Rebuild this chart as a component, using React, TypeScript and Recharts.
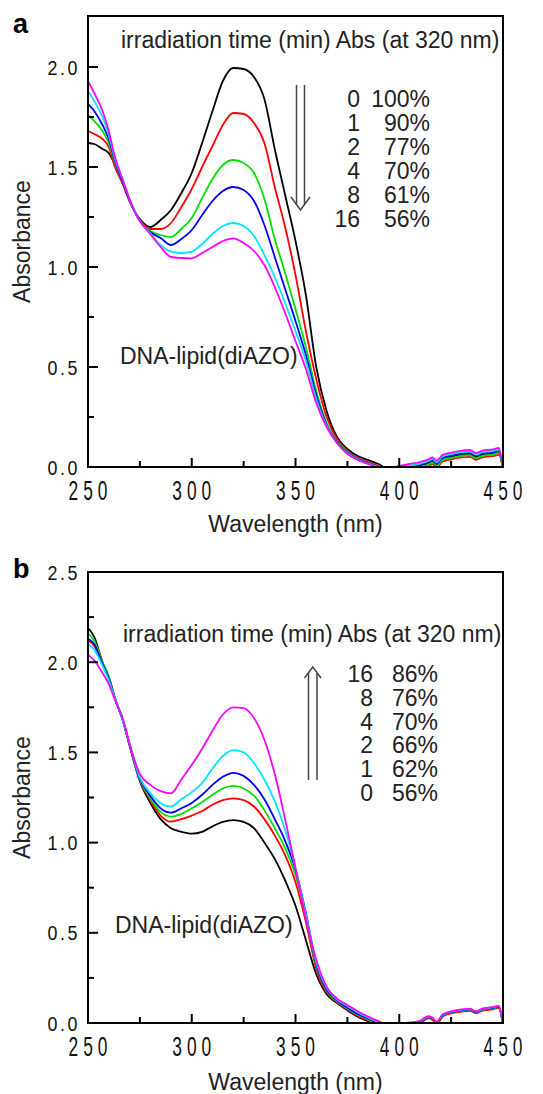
import { LineChart, Line, XAxis, YAxis, ReferenceArea } from "recharts";

// wavelength grid (nm)
const wavelengths = [
  250, 253, 257, 260, 263, 267, 270, 275, 280, 285, 290, 295, 300, 305, 310, 315, 320, 325, 330, 335,
  340, 345, 350, 355, 360, 365, 370, 375, 380, 385, 390, 395, 400, 405, 410, 414, 416, 418, 421, 425,
  430, 434, 437, 440, 445, 448, 450,
];

// panel a: trans -> cis (absorbance at each wavelength)
const a_0min = [
  1.62, 1.615, 1.59, 1.57, 1.51, 1.41, 1.33, 1.24, 1.2, 1.235, 1.285, 1.37, 1.47, 1.62, 1.78, 1.93, 1.995, 1.99, 1.95, 1.84,
  1.59, 1.36, 1.13, 0.86, 0.5, 0.28, 0.15, 0.09, 0.055, 0.035, 0.015, -0.01, -0.01, -0.005, 0.005, 0.018, 0.028, 0.012, 0.042, 0.052,
  0.062, 0.065, 0.05, 0.062, 0.068, 0.075, -0.01,
];
const a_1min = [
  1.68, 1.665, 1.64, 1.6, 1.5, 1.41, 1.33, 1.235, 1.19, 1.19, 1.22, 1.3, 1.39, 1.5, 1.605, 1.71, 1.77, 1.765, 1.72, 1.62,
  1.4, 1.2, 0.96, 0.68, 0.44, 0.25, 0.14, 0.08, 0.045, 0.025, 0.005, -0.01, -0.01, -0.01, -0.005, 0.005, 0.014, -0.002, 0.028, 0.038,
  0.048, 0.051, 0.036, 0.048, 0.054, 0.061, -0.01,
];
const a_2min = [
  1.76, 1.73, 1.68, 1.62, 1.52, 1.42, 1.335, 1.23, 1.18, 1.16, 1.15, 1.19, 1.245, 1.345, 1.44, 1.51, 1.535, 1.52, 1.47, 1.34,
  1.14, 0.97, 0.79, 0.6, 0.38, 0.22, 0.13, 0.075, 0.04, 0.02, 0.0, -0.01, -0.01, -0.008, 0.0, 0.012, 0.022, 0.006, 0.036, 0.046,
  0.056, 0.059, 0.044, 0.056, 0.062, 0.069, -0.01,
];
const a_4min = [
  1.815, 1.78, 1.71, 1.64, 1.53, 1.42, 1.335, 1.23, 1.175, 1.145, 1.11, 1.14, 1.185, 1.26, 1.33, 1.38, 1.4, 1.385, 1.33, 1.21,
  1.05, 0.89, 0.73, 0.56, 0.36, 0.21, 0.125, 0.07, 0.04, 0.02, 0.0, -0.01, -0.005, 0.001, 0.011, 0.024, 0.034, 0.018, 0.048, 0.058,
  0.068, 0.071, 0.056, 0.068, 0.074, 0.081, -0.01,
];
const a_8min = [
  1.88, 1.83, 1.75, 1.66, 1.54, 1.43, 1.34, 1.23, 1.17, 1.11, 1.077, 1.07, 1.077, 1.115, 1.165, 1.205, 1.22, 1.205, 1.155, 1.06,
  0.95, 0.82, 0.68, 0.53, 0.34, 0.205, 0.12, 0.068, 0.037, 0.017, 0.0, -0.01, 0.0, 0.007, 0.017, 0.03, 0.04, 0.024, 0.054, 0.064,
  0.074, 0.077, 0.062, 0.074, 0.08, 0.087, -0.01,
];
const a_16min = [
  1.93, 1.87, 1.78, 1.68, 1.55, 1.43, 1.34, 1.23, 1.165, 1.1, 1.05, 1.045, 1.043, 1.07, 1.1, 1.13, 1.143, 1.12, 1.08, 1.01,
  0.9, 0.77, 0.63, 0.49, 0.32, 0.2, 0.12, 0.065, 0.035, 0.015, 0.0, -0.005, 0.005, 0.015, 0.025, 0.038, 0.048, 0.032, 0.062, 0.072,
  0.082, 0.085, 0.07, 0.082, 0.088, 0.095, -0.01,
];

// panel b: cis -> trans recovery
const b_0min = [
  2.19, 2.14, 2.0, 1.92, 1.8, 1.67, 1.54, 1.34, 1.22, 1.13, 1.08, 1.06, 1.05, 1.06, 1.09, 1.115, 1.125, 1.115, 1.08, 1.0,
  0.91, 0.79, 0.65, 0.46, 0.27, 0.16, 0.11, 0.07, 0.035, 0.01, -0.01, -0.01, -0.01, -0.005, 0.004, 0.03, 0.022, 0.0, 0.04, 0.057,
  0.067, 0.072, 0.057, 0.072, 0.08, 0.087, -0.01,
];
const b_1min = [
  2.12, 2.09, 1.99, 1.91, 1.8, 1.67, 1.54, 1.345, 1.235, 1.15, 1.116, 1.13, 1.15, 1.175, 1.21, 1.235, 1.245, 1.235, 1.2, 1.13,
  1.04, 0.93, 0.78, 0.56, 0.3, 0.17, 0.115, 0.075, 0.04, 0.015, -0.01, -0.01, -0.01, -0.008, 0.0, 0.026, 0.018, -0.004, 0.036, 0.053,
  0.063, 0.068, 0.053, 0.068, 0.076, 0.083, -0.01,
];
const b_2min = [
  2.16, 2.12, 2.0, 1.92, 1.8, 1.67, 1.545, 1.35, 1.245, 1.17, 1.144, 1.16, 1.19, 1.225, 1.265, 1.3, 1.314, 1.3, 1.26, 1.18,
  1.08, 0.97, 0.82, 0.59, 0.32, 0.18, 0.12, 0.08, 0.045, 0.02, -0.01, -0.01, -0.01, -0.004, 0.005, 0.031, 0.023, 0.001, 0.041, 0.058,
  0.068, 0.073, 0.058, 0.073, 0.081, 0.088, -0.01,
];
const b_4min = [
  2.13, 2.1, 1.99, 1.91, 1.8, 1.67, 1.545, 1.355, 1.26, 1.19, 1.166, 1.19, 1.22, 1.265, 1.32, 1.365, 1.387, 1.37, 1.32, 1.24,
  1.13, 1.01, 0.85, 0.61, 0.33, 0.185, 0.125, 0.085, 0.05, 0.025, 0.0, -0.01, -0.008, -0.002, 0.007, 0.033, 0.025, 0.003, 0.043, 0.06,
  0.07, 0.075, 0.06, 0.075, 0.083, 0.09, -0.01,
];
const b_8min = [
  2.1, 2.07, 1.98, 1.9, 1.8, 1.67, 1.55, 1.36, 1.275, 1.22, 1.2, 1.24, 1.28, 1.33, 1.41, 1.48, 1.513, 1.5, 1.44, 1.35,
  1.23, 1.07, 0.86, 0.6, 0.34, 0.195, 0.13, 0.095, 0.06, 0.03, 0.005, -0.01, -0.006, 0.0, 0.01, 0.036, 0.028, 0.006, 0.046, 0.063,
  0.073, 0.078, 0.063, 0.078, 0.086, 0.093, -0.01,
];
const b_16min = [
  2.04, 2.01, 1.94, 1.88, 1.79, 1.68, 1.55, 1.38, 1.32, 1.285, 1.273, 1.35, 1.43, 1.52, 1.62, 1.71, 1.75, 1.745, 1.69, 1.57,
  1.38, 1.13, 0.86, 0.58, 0.35, 0.2, 0.135, 0.1, 0.065, 0.035, 0.01, -0.01, -0.005, 0.003, 0.012, 0.038, 0.03, 0.008, 0.048, 0.065,
  0.075, 0.08, 0.065, 0.08, 0.088, 0.095, -0.01,
];

const seriesKeys = ["t0", "t1", "t2", "t4", "t8", "t16"];
const seriesColors = ["#000000", "#ff0000", "#00e000", "#0000ff", "#00e5ff", "#ff00ff"];

const legendA = [
  ["0", "100%"],
  ["1", "90%"],
  ["2", "77%"],
  ["4", "70%"],
  ["8", "61%"],
  ["16", "56%"],
];
const legendB = [
  ["16", "86%"],
  ["8", "76%"],
  ["4", "70%"],
  ["2", "66%"],
  ["1", "62%"],
  ["0", "56%"],
];

const xTicks = [250, 275, 300, 325, 350, 375, 400, 425, 450];
const yTicksA = [0, 0.25, 0.5, 0.75, 1, 1.25, 1.5, 1.75, 2];
const yTicksB = [0, 0.25, 0.5, 0.75, 1, 1.25, 1.5, 1.75, 2, 2.25, 2.5];

const rowsA = wavelengths.map((w, i) => ({
  w,
  t0: a_0min[i],
  t1: a_1min[i],
  t2: a_2min[i],
  t4: a_4min[i],
  t8: a_8min[i],
  t16: a_16min[i],
}));
const rowsB = wavelengths.map((w, i) => ({
  w,
  t0: b_0min[i],
  t1: b_1min[i],
  t2: b_2min[i],
  t4: b_4min[i],
  t8: b_8min[i],
  t16: b_16min[i],
}));

const FONT = "'Liberation Sans', Arial, Helvetica, sans-serif";

const XTick = (props: any) => {
  const { x, y, payload } = props;
  const v = payload.value;
  const major = v % 50 === 0;
  return (
    <g>
      <line x1={x} x2={x} y1={y} y2={y - (major ? 9 : 6)} stroke="#000" strokeWidth={2} />
      {major && (
        <text
          transform={`translate(${x + 2.5},${y + 33}) scale(0.62,1)`}
          textAnchor="middle"
          fontSize={28}
          letterSpacing={8}
          fontFamily={FONT}
          fill="#111"
        >
          {v}
        </text>
      )}
    </g>
  );
};

const YTick = (props: any) => {
  const { x, y, payload } = props;
  const v = payload.value;
  const major = Math.abs(v * 2 - Math.round(v * 2)) < 1e-6;
  return (
    <g>
      <line x1={x} x2={x + (major ? 10 : 6)} y1={y} y2={y} stroke="#000" strokeWidth={2} />
      {major && (
        <text
          transform={`translate(${x - 8},${y + 7.5}) scale(0.85,1)`}
          textAnchor="end"
          fontSize={21}
          letterSpacing={3}
          fontFamily={FONT}
          fill="#111"
        >
          {v.toFixed(1)}
        </text>
      )}
    </g>
  );
};

function Panel({ rows, yMax, yTicks, top, height, marginTop, marginBottom }: any) {
  return (
    <div style={{ position: "absolute", left: 0, top, width: 543, height }}>
      <LineChart
        width={543}
        height={height}
        data={rows}
        margin={{ top: marginTop, right: 40, bottom: marginBottom, left: 28 }}
      >
        <XAxis
          dataKey="w"
          type="number"
          domain={[250, 450]}
          ticks={xTicks}
          interval={0}
          allowDataOverflow
          height={40}
          tickSize={0}
          tickMargin={0}
          tickLine={false}
          axisLine={{ stroke: "#000", strokeWidth: 2 }}
          tick={<XTick />}
        />
        <YAxis
          type="number"
          domain={[0, yMax]}
          ticks={yTicks}
          interval={0}
          allowDataOverflow
          width={60}
          tickSize={0}
          tickMargin={0}
          tickLine={false}
          axisLine={{ stroke: "#000", strokeWidth: 2 }}
          tick={<YTick />}
        />
        {seriesKeys.map((k, i) => (
          <Line
            key={k}
            dataKey={k}
            type="monotone"
            stroke={seriesColors[i]}
            strokeWidth={1.8}
            dot={false}
            isAnimationActive={false}
          />
        ))}
        <ReferenceArea x1={250} x2={450} y1={0} y2={yMax} fill="none" stroke="#000" strokeWidth={2} />
      </LineChart>
    </div>
  );
}

function Annotations() {
  const t = { fontFamily: FONT, fontSize: 23, fill: "#222" } as any;
  return (
    <svg
      width={543}
      height={1094}
      style={{ position: "absolute", left: 0, top: 0, pointerEvents: "none" }}
    >
      {/* panel a */}
      <text x={13} y={33} fontFamily={FONT} fontSize={27} fontWeight="bold" fill="#000">a</text>
      <text x={121} y={48} {...t}>irradiation time (min) Abs (at 320 nm)</text>
      {legendA.map((r, i) => (
        <g key={"la" + i}>
          <text x={360} y={107 + 24 * i} textAnchor="end" {...t}>{r[0]}</text>
          <text x={430} y={107 + 24 * i} textAnchor="end" {...t}>{r[1]}</text>
        </g>
      ))}
      <line x1={296.5} x2={296.5} y1={85} y2={205} stroke="#444" strokeWidth={1.5} />
      <line x1={304.5} x2={304.5} y1={85} y2={205} stroke="#444" strokeWidth={1.5} />
      <polyline points="291,197 300.5,210 310,197" fill="none" stroke="#444" strokeWidth={1.5} />
      <text x={120} y={364} {...t}>DNA-lipid(diAZO)</text>
      <text
        transform="translate(30,241.5) rotate(-90)"
        textAnchor="middle"
        fontFamily={FONT}
        fontSize={23}
        fill="#222"
      >
        Absorbance
      </text>
      <text x={295.5} y={532} textAnchor="middle" fontFamily={FONT} fontSize={23} fill="#222">
        Wavelength (nm)
      </text>

      {/* panel b */}
      <text x={13} y={578} fontFamily={FONT} fontSize={27} fontWeight="bold" fill="#000">b</text>
      <text x={123} y={642} {...t}>irradiation time (min) Abs (at 320 nm)</text>
      {legendB.map((r, i) => (
        <g key={"lb" + i}>
          <text x={373} y={682 + 23.8 * i} textAnchor="end" {...t}>{r[0]}</text>
          <text x={438} y={682 + 23.8 * i} textAnchor="end" {...t}>{r[1]}</text>
        </g>
      ))}
      <line x1={308.5} x2={308.5} y1={673} y2={780} stroke="#444" strokeWidth={1.5} />
      <line x1={317} x2={317} y1={673} y2={780} stroke="#444" strokeWidth={1.5} />
      <polyline points="304.5,678 312.8,667 321,678" fill="none" stroke="#444" strokeWidth={1.5} />
      <text x={115} y={933} {...t}>DNA-lipid(diAZO)</text>
      <text
        transform="translate(30,797.5) rotate(-90)"
        textAnchor="middle"
        fontFamily={FONT}
        fontSize={23}
        fill="#222"
      >
        Absorbance
      </text>
      <text x={295.5} y={1090} textAnchor="middle" fontFamily={FONT} fontSize={23} fill="#222">
        Wavelength (nm)
      </text>
    </svg>
  );
}

export default function App() {
  return (
    <div
      style={{
        position: "absolute",
        left: 0,
        top: 0,
        width: 543,
        height: 1094,
        background: "#fff",
        overflow: "hidden",
      }}
    >
      <Panel rows={rowsA} yMax={2.255} yTicks={yTicksA} top={0} height={540} marginTop={16} marginBottom={33} />
      <Panel rows={rowsB} yMax={2.5} yTicks={yTicksB} top={540} height={554} marginTop={32} marginBottom={31} />
      <Annotations />
    </div>
  );
}
